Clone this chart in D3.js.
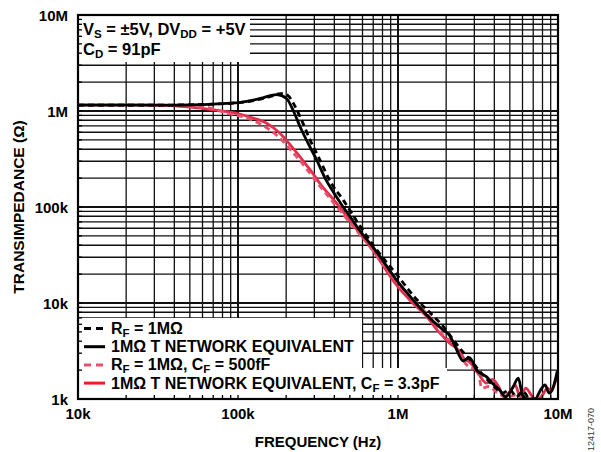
<!DOCTYPE html>
<html>
<head>
<meta charset="utf-8">
<script src="https://cdn.jsdelivr.net/npm/d3@7"></script>
<style>
body { margin: 0; background: #fff; }
text { font-family: "Liberation Sans", Arial, sans-serif; font-weight: bold; }
</style>
</head>
<body>
<svg id="chart"></svg>
<script>
var width = 601
var height = 452

// tick labels
var xTicks = [1e4, 1e5, 1e6, 1e7]
var xLabels = ["10k", "100k", "1M", "10M"]
var yTicks = [1e3, 1e4, 1e5, 1e6, 1e7]
var yLabels = ["1k", "10k", "100k", "1M", "10M"]

// series: [frequency Hz, transimpedance ohm]
var rfOnly = [
 [1e4, 1.15e6], [3e4, 1.15e6], [5e4, 1.16e6], [7e4, 1.18e6], [1e5, 1.22e6], [1.3e5, 1.3e6],
 [1.6e5, 1.42e6], [1.85e5, 1.52e6], [2.05e5, 1.45e6], [2.22e5, 1.2e6], [2.5e5, 8e5],
 [2.82e5, 5e5], [3.25e5, 3.09e5], [3.8e5, 1.8e5], [4.55e5, 1.18e5], [5.5e5, 7.2e4],
 [7e5, 4e4], [1e6, 1.9e4], [1.3e6, 1.1e4], [1.6e6, 7.8e3], [1.9e6, 5.8e3], [2.2e6, 4.2e3],
 [2.5e6, 3.2e3], [2.8e6, 2.6e3], [3.2e6, 2.0e3], [3.6e6, 1.6e3], [4.0e6, 1.35e3],
 [4.5e6, 1.15e3], [5e6, 1.25e3], [5.5e6, 1.05e3], [6e6, 1.2e3], [6.6e6, 0.98e3]
]
var tNetwork = [
 [1e4, 1.15e6], [3e4, 1.15e6], [5e4, 1.16e6], [7e4, 1.18e6], [9e4, 1.21e6], [1e5, 1.22e6],
 [1.2e5, 1.28e6], [1.4e5, 1.36e6], [1.6e5, 1.45e6], [1.75e5, 1.48e6], [2.01e5, 1.35e6],
 [2.22e5, 1.0e6], [2.44e5, 6.9e5], [2.8e5, 4.3e5], [3.1e5, 3.1e5], [3.5e5, 2.0e5],
 [4e5, 1.38e5], [4.45e5, 1.05e5], [5e5, 8e4], [6e5, 5.2e4], [7e5, 3.8e4], [8e5, 2.8e4],
 [9.77e5, 1.74e4], [1.2e6, 1.15e4], [1.5e6, 7.6e3], [1.92e6, 5.2e3], [2.1e6, 4.6e3],
 [2.3e6, 3.4e3], [2.55e6, 2.5e3], [2.8e6, 2.7e3], [3.1e6, 2.0e3], [3.58e6, 1.7e3],
 [3.9e6, 1.45e3], [4.3e6, 1.25e3], [4.7e6, 1.05e3], [5.2e6, 1.3e3], [5.65e6, 1.65e3],
 [6.0e6, 1.1e3], [6.5e6, 1.0e3], [7.2e6, 1.0e3], [7.8e6, 1.25e3], [8.3e6, 1.4e3],
 [8.8e6, 1.15e3], [9.3e6, 1.3e3], [9.9e6, 1.95e3]
]
var rfCf = [
 [1e4, 1.15e6], [3e4, 1.15e6], [5e4, 1.12e6], [7e4, 1.06e6], [8.5e4, 9.5e5], [1.1e5, 8.6e5],
 [1.4e5, 7.2e5], [1.7e5, 5.8e5], [1.92e5, 4.8e5], [2.2e5, 3.7e5], [2.5e5, 2.9e5],
 [3e5, 1.95e5], [3.5e5, 1.42e5], [4e5, 1.08e5], [5e5, 6.9e4], [7e5, 3.5e4], [1e6, 1.6e4],
 [1.3e6, 1.0e4], [1.6e6, 7e3], [2e6, 4.3e3], [2.2e6, 4.0e3], [2.4e6, 3.0e3], [2.9e6, 2.1e3],
 [3.1e6, 2.2e3], [3.35e6, 1.3e3], [3.7e6, 1.35e3], [4.2e6, 1.15e3], [4.8e6, 1.05e3],
 [5.4e6, 1.1e3], [6.2e6, 0.95e3]
]
var tNetworkCf = [
 [1e4, 1.16e6], [2e4, 1.16e6], [3e4, 1.15e6], [4e4, 1.13e6], [5.8e4, 1.07e6], [7.5e4, 1.01e6],
 [9.3e4, 9.6e5], [1.2e5, 8.6e5], [1.51e5, 7.45e5], [1.8e5, 6.0e5], [2.11e5, 4.5e5],
 [2.45e5, 3.3e5], [2.82e5, 2.45e5], [3.3e5, 1.7e5], [4.14e5, 1.09e5], [5e5, 7.2e4],
 [7e5, 3.5e4], [9.77e5, 1.54e4], [1.2e6, 1.05e4], [1.51e6, 7.2e3], [1.8e6, 5.0e3],
 [2.11e6, 3.8e3], [2.4e6, 3.2e3], [2.6e6, 2.6e3], [2.82e6, 2.4e3], [3.2e6, 1.8e3],
 [3.58e6, 1.46e3], [3.9e6, 1.6e3], [4.3e6, 1.3e3], [4.6e6, 1.05e3], [5.0e6, 1.2e3],
 [5.4e6, 1.4e3], [5.8e6, 1.05e3], [6.3e6, 1.3e3], [6.8e6, 1.1e3], [7.4e6, 0.98e3],
 [8.0e6, 1.1e3], [8.6e6, 1.3e3], [9.1e6, 1.2e3], [9.6e6, 1.5e3], [1e7, 1.7e3]
]

var legendLabels = [
 ["R", "F", " = 1M\u03A9"],
 ["1M\u03A9 T NETWORK EQUIVALENT"],
 ["R", "F", " = 1M\u03A9, C", "F", " = 500fF"],
 ["1M\u03A9 T NETWORK EQUIVALENT, C", "F", " = 3.3pF"]
]

var pLeft = 78, pRight = 558, pTop = 15, pBottom = 399

var svg = d3.select("#chart")
	.attr("width", width)
	.attr("height", height)

var x = d3.scaleLog().domain([1e4, 1e7]).range([pLeft, pRight])
var y = d3.scaleLog().domain([1e3, 1e7]).range([pBottom, pTop])

svg.append("rect").attr("width", width).attr("height", height).attr("fill", "#fff")

// grid values
var xGrid = []
for (var d = 1e4; d < 1e7; d *= 10) {
	for (var k = 1; k < 10; k++) xGrid.push({v: k * d, major: k == 1})
}
var yGrid = []
for (var d = 1e3; d < 1e7; d *= 10) {
	for (var k = 1; k < 10; k++) yGrid.push({v: k * d, major: k == 1})
}

svg.append("g").selectAll("line")
	.data(xGrid)
	.join("line")
	.attr("x1", function(d) { return x(d.v) })
	.attr("x2", function(d) { return x(d.v) })
	.attr("y1", pTop)
	.attr("y2", pBottom)
	.attr("stroke", "#111")
	.attr("stroke-width", function(d) { return d.major ? 2 : 1.3 })

svg.append("g").selectAll("line")
	.data(yGrid)
	.join("line")
	.attr("y1", function(d) { return y(d.v) })
	.attr("y2", function(d) { return y(d.v) })
	.attr("x1", pLeft)
	.attr("x2", pRight)
	.attr("stroke", "#111")
	.attr("stroke-width", function(d) { return d.major ? 2 : 1.4 })

// curves
svg.append("clipPath").attr("id", "clip")
	.append("rect").attr("x", pLeft).attr("y", pTop).attr("width", pRight - pLeft).attr("height", pBottom - pTop)

var line = d3.line()
	.x(function(d) { return x(d[0]) })
	.y(function(d) { return y(d[1]) })
	.curve(d3.curveMonotoneX)

var series = [
	{data: tNetworkCf, color: "#e0304e", dash: null, w: 2.8},
	{data: rfCf, color: "#e8506a", dash: "6,4", w: 2.8},
	{data: tNetwork, color: "#000", dash: null, w: 2.8},
	{data: rfOnly, color: "#000", dash: "6,4", w: 2.8}
]

svg.append("g").attr("clip-path", "url(#clip)")
	.selectAll("path")
	.data(series)
	.join("path")
	.attr("d", function(d) { return line(d.data) })
	.attr("fill", "none")
	.attr("stroke", function(d) { return d.color })
	.attr("stroke-width", function(d) { return d.w })
	.attr("stroke-dasharray", function(d) { return d.dash })
	.attr("stroke-linejoin", "round")

// annotation box top-left
svg.append("rect").attr("x", pLeft).attr("y", pTop).attr("width", 172).attr("height", 47).attr("fill", "#fff")
var ann1 = svg.append("text").attr("x", 83).attr("y", 35).attr("font-size", 16.5)
ann1.append("tspan").text("V")
ann1.append("tspan").text("S").attr("font-size", 11.5).attr("dy", 3)
ann1.append("tspan").text(" = \u00B15V, DV").attr("dy", -3)
ann1.append("tspan").text("DD").attr("font-size", 11.5).attr("dy", 3)
ann1.append("tspan").text(" = +5V").attr("dy", -3)
var ann2 = svg.append("text").attr("x", 83).attr("y", 54.5).attr("font-size", 16.5)
ann2.append("tspan").text("C")
ann2.append("tspan").text("D").attr("font-size", 11.5).attr("dy", 3)
ann2.append("tspan").text(" = 91pF").attr("dy", -3)

// legend box bottom-left
svg.append("rect").attr("x", pLeft).attr("y", 318).attr("width", 284).attr("height", pBottom - 318).attr("fill", "#fff")
svg.append("rect").attr("x", pLeft).attr("y", 368).attr("width", 369).attr("height", pBottom - 368).attr("fill", "#fff")

var legendStyle = [
	{color: "#000", dash: "7,5"},
	{color: "#000", dash: null},
	{color: "#e8506a", dash: "7,5"},
	{color: "#f01c28", dash: null}
]
legendLabels.forEach(function(parts, i) {
	var base = 334 + i * 18.2
	svg.append("line")
		.attr("x1", 84).attr("x2", 105)
		.attr("y1", base - 5.5).attr("y2", base - 5.5)
		.attr("stroke", legendStyle[i].color)
		.attr("stroke-width", 3)
		.attr("stroke-dasharray", legendStyle[i].dash)
	var t = svg.append("text").attr("x", 111).attr("y", base).attr("font-size", 16)
	parts.forEach(function(p, j) {
		var sub = j % 2 == 1
		t.append("tspan").text(p)
			.attr("font-size", sub ? 11.5 : null)
			.attr("dy", j == 0 ? 0 : (sub ? 3 : -3))
	})
})

// inward ticks on the frame
svg.append("g").selectAll("line")
	.data(xGrid)
	.join("line")
	.attr("x1", function(d) { return x(d.v) })
	.attr("x2", function(d) { return x(d.v) })
	.attr("y1", pBottom)
	.attr("y2", pBottom - 4)
	.attr("stroke", "#000")
	.attr("stroke-width", 1.3)
svg.append("g").selectAll("line")
	.data(yGrid)
	.join("line")
	.attr("y1", function(d) { return y(d.v) })
	.attr("y2", function(d) { return y(d.v) })
	.attr("x1", pLeft)
	.attr("x2", pLeft + 4)
	.attr("stroke", "#000")
	.attr("stroke-width", 1.3)

// frame
svg.append("rect")
	.attr("x", pLeft).attr("y", pTop)
	.attr("width", pRight - pLeft).attr("height", pBottom - pTop)
	.attr("fill", "none").attr("stroke", "#000").attr("stroke-width", 2.2)

// tick labels
svg.append("g").selectAll("text")
	.data(xTicks)
	.join("text")
	.attr("x", function(d) { return x(d) })
	.attr("y", 419)
	.attr("text-anchor", "middle")
	.attr("font-size", 15)
	.text(function(d, i) { return xLabels[i] })

svg.append("g").selectAll("text")
	.data(yTicks)
	.join("text")
	.attr("x", 68)
	.attr("y", function(d) { return y(d) + 5.5 })
	.attr("text-anchor", "end")
	.attr("font-size", 15)
	.text(function(d, i) { return yLabels[i] })

// axis titles
svg.append("text")
	.attr("x", (pLeft + pRight) / 2)
	.attr("y", 447)
	.attr("text-anchor", "middle")
	.attr("font-size", 15)
	.text("FREQUENCY (Hz)")

svg.append("text")
	.attr("transform", "translate(24," + (pTop + pBottom) / 2 + ") rotate(-90)")
	.attr("text-anchor", "middle")
	.attr("font-size", 15.5)
	.text("TRANSIMPEDANCE (\u03A9)")

svg.append("text")
	.attr("transform", "translate(594,451) rotate(-90)")
	.attr("font-size", 9)
	.style("font-weight", "normal")
	.attr("fill", "#333")
	.text("12417-070")
</script>
</body>
</html>
